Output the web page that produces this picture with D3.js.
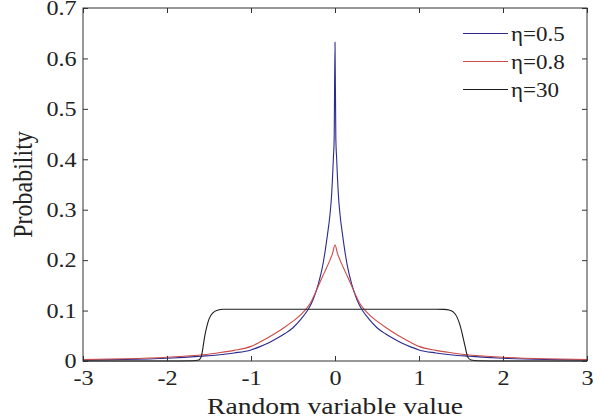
<!DOCTYPE html>
<html>
<head>
<meta charset="utf-8">
<script src="https://cdn.jsdelivr.net/npm/d3@7"></script>
<style>
  body { margin: 0; background: #fff; }
  svg { display: block; }
  text { font-family: "Liberation Serif", "Times New Roman", serif; fill: #222; }
</style>
</head>
<body>
<svg id="chart" width="605" height="419"></svg>
<script>
// values

const eta05X = [-3, -2.5, -2, -1.8, -1.6, -1.4, -1.2, -1, -0.9, -0.8, -0.7, -0.6, -0.5, -0.4, -0.32, -0.26, -0.2, -0.15, -0.12, -0.09, -0.06, -0.04, -0.03, -0.02, -0.01,
  0, 0.01, 0.02, 0.03, 0.04, 0.06, 0.09, 0.12, 0.15, 0.2, 0.26, 0.32, 0.4, 0.5, 0.6, 0.7, 0.8, 0.9, 1, 1.2, 1.4, 1.6, 1.8, 2, 2.5, 3];
const eta05Y = [0.0018, 0.003, 0.0055, 0.0072, 0.0095, 0.012, 0.016, 0.022, 0.028, 0.035, 0.044, 0.054, 0.066, 0.084, 0.102, 0.122, 0.152, 0.186, 0.215, 0.25, 0.29, 0.33, 0.362, 0.4, 0.44,
  0.632, 0.44, 0.4, 0.362, 0.33, 0.29, 0.25, 0.215, 0.186, 0.152, 0.122, 0.102, 0.084, 0.066, 0.054, 0.044, 0.035, 0.028, 0.022, 0.016, 0.012, 0.0095, 0.0072, 0.0055, 0.003, 0.0018];

const eta08X = [-3, -2.5, -2, -1.8, -1.6, -1.4, -1.2, -1, -0.9, -0.8, -0.7, -0.6, -0.5, -0.4, -0.3, -0.2, -0.15, -0.1, -0.06, -0.03,
  0, 0.03, 0.06, 0.1, 0.15, 0.2, 0.3, 0.4, 0.5, 0.6, 0.7, 0.8, 0.9, 1, 1.2, 1.4, 1.6, 1.8, 2, 2.5, 3];
const eta08Y = [0.003, 0.0045, 0.0075, 0.0095, 0.012, 0.016, 0.021, 0.029, 0.037, 0.046, 0.056, 0.067, 0.079, 0.093, 0.113, 0.148, 0.167, 0.185, 0.2, 0.213,
  0.23, 0.213, 0.2, 0.185, 0.167, 0.148, 0.113, 0.093, 0.079, 0.067, 0.056, 0.046, 0.037, 0.029, 0.021, 0.016, 0.012, 0.0095, 0.0075, 0.0045, 0.003];

const eta30X = [-3, -2, -1.7, -1.62, -1.59, -1.55, -1.5, -1.45, -1.4, -1.33, -1.2, 0, 1.2, 1.3, 1.36, 1.41, 1.45, 1.49, 1.52, 1.55, 1.58, 1.62, 1.7, 2, 3];
const eta30Y = [0, 0, 0.0005, 0.002, 0.01, 0.05, 0.083, 0.096, 0.1005, 0.1026, 0.1026, 0.1026, 0.1026, 0.1024, 0.101, 0.097, 0.088, 0.07, 0.05, 0.028, 0.008, 0.002, 0.0005, 0, 0];

const seriesNames = ["η=0.5", "η=0.8", "η=30"];
const seriesColors = ["#2a2a90", "#cc4a46", "#1c1c1c"];

const xTicks = [-3, -2, -1, 0, 1, 2, 3];
const yTicks = [0, 0.1, 0.2, 0.3, 0.4, 0.5, 0.6, 0.7];

const STRETCH = 1.15; // reference text is a little wider than plain Times
const SERIF = "'Liberation Serif', 'Times New Roman', serif";

function drawChart() {
  const svg = d3.select("#chart");
  const m = { left: 83, right: 18, top: 8, bottom: 58 };
  const w = 605, h = 419;

  const x = d3.scaleLinear().domain([-3, 3]).range([m.left, w - m.right]);
  const y = d3.scaleLinear().domain([0, 0.7]).range([h - m.bottom, m.top]);

  const series = [
    { name: seriesNames[0], color: seriesColors[0], xs: eta05X, ys: eta05Y },
    { name: seriesNames[1], color: seriesColors[1], xs: eta08X, ys: eta08Y },
    { name: seriesNames[2], color: seriesColors[2], xs: eta30X, ys: eta30Y },
  ];

  const line = d3.line()
    .x((d) => x(d[0]))
    .y((d) => y(d[1]))
    .curve(d3.curveMonotoneX);

  // curves first, axes box on top
  series.forEach((s) => {
    svg.append("path")
      .datum(s.xs.map((v, i) => [v, s.ys[i]]))
      .attr("fill", "none")
      .attr("stroke", s.color)
      .attr("stroke-width", 1.1)
      .attr("d", line);
  });

  const styleAxis = (g) => {
    g.attr("font-family", SERIF);
    g.select(".domain").remove();
    g.selectAll(".tick line").attr("stroke", "#333");
    g.selectAll(".tick text")
      .attr("font-size", 21)
      .attr("font-family", SERIF)
      .attr("fill", "#222")
      .attr("transform", `scale(${STRETCH},1)`);
  };

  svg.append("g")
    .attr("transform", `translate(0,${y(0)})`)
    .call(d3.axisBottom(x).tickValues(xTicks).tickSizeInner(-5).tickSizeOuter(0).tickPadding(9).tickFormat((d) => String(d)))
    .call(styleAxis);

  svg.append("g")
    .attr("transform", `translate(${x(-3)},0)`)
    .call(d3.axisLeft(y).tickValues(yTicks).tickSizeInner(-5).tickSizeOuter(0).tickPadding(5.5)
      .tickFormat((d) => (d === 0 ? "0" : d3.format(".1f")(d))))
    .call(styleAxis);

  svg.append("g")
    .attr("transform", `translate(0,${y(0.7)})`)
    .call(d3.axisTop(x).tickValues(xTicks).tickSizeInner(-5).tickSizeOuter(0).tickFormat(""))
    .call(styleAxis);

  svg.append("g")
    .attr("transform", `translate(${x(3)},0)`)
    .call(d3.axisRight(y).tickValues(yTicks).tickSizeInner(-5).tickSizeOuter(0).tickFormat(""))
    .call(styleAxis);

  svg.append("rect")
    .attr("x", x(-3))
    .attr("y", y(0.7))
    .attr("width", x(3) - x(-3))
    .attr("height", y(0) - y(0.7))
    .attr("fill", "none")
    .attr("stroke", "#333")
    .attr("stroke-width", 1);

  // legend, no box
  const lg = svg.append("g").attr("transform", "translate(463,33.5)");
  series.forEach((s, i) => {
    const row = lg.append("g").attr("transform", `translate(0,${i * 28})`);
    row.append("line")
      .attr("x1", 0).attr("x2", 45)
      .attr("stroke", s.color)
      .attr("stroke-width", 1.2);
    row.append("text")
      .attr("x", 48 / STRETCH)
      .attr("dy", "0.35em")
      .attr("font-size", 20)
      .attr("font-family", SERIF)
      .attr("transform", `scale(${STRETCH},1)`)
      .text(s.name);
  });

  svg.append("text")
    .attr("text-anchor", "middle")
    .attr("font-size", 24)
    .attr("font-family", SERIF)
    .attr("transform", `translate(${(x(-3) + x(3)) / 2},414) scale(${STRETCH},1)`)
    .text("Random variable value");

  svg.append("text")
    .attr("text-anchor", "middle")
    .attr("font-size", 24)
    .attr("font-family", SERIF)
    .attr("transform", `translate(32,${(y(0) + y(0.7)) / 2}) scale(${STRETCH},1) rotate(-90)`)
    .text("Probability");
}

drawChart();
</script>
</body>
</html>
